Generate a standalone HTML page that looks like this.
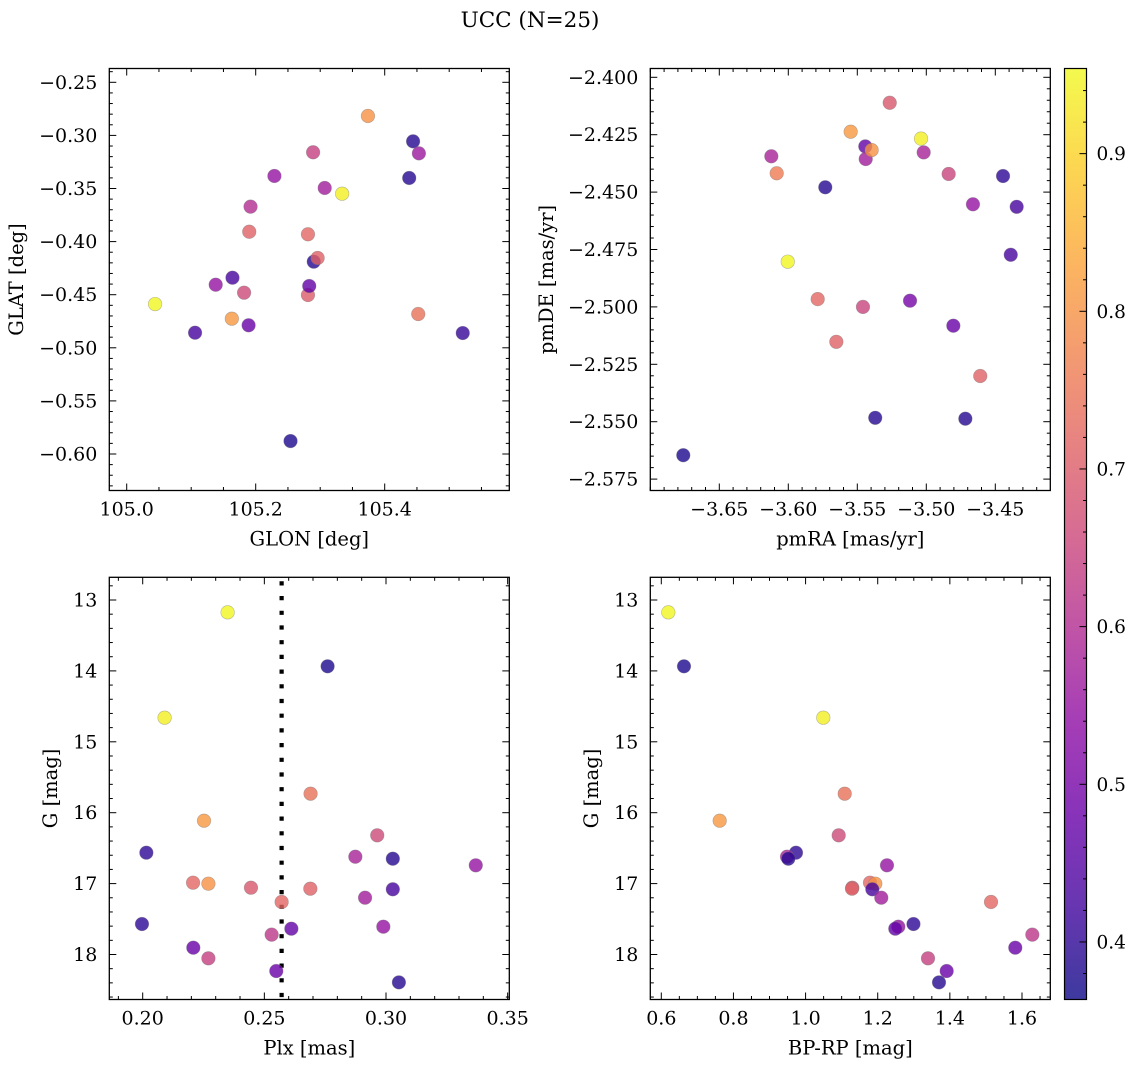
<!DOCTYPE html>
<html><head><meta charset="utf-8"><title>UCC (N=25)</title>
<style>
html,body{margin:0;padding:0;background:#fff;}
svg text{font-family:"DejaVu Serif","Liberation Serif",serif;fill:#000;}
</style></head>
<body>
<svg id="fig" xmlns="http://www.w3.org/2000/svg" width="1136" height="1067" viewBox="0 0 1136 1067">
<rect width="1136" height="1067" fill="#fff"/>
<text x="530" y="27" font-size="21.5" text-anchor="middle">UCC (N=25)</text>
</svg>
<script>
// ---- Panel 1: GLON / GLAT ----
const glon = [105.044,105.106,105.138,105.164,105.163,105.182,105.189,105.190,105.192,105.229,105.254,105.281,105.281,105.283,105.289,105.290,105.296,105.307,105.334,105.374,105.438,105.444,105.453,105.452,105.521];
const glat = [-0.4588,-0.4858,-0.4406,-0.4340,-0.4726,-0.4481,-0.4788,-0.3907,-0.3671,-0.3382,-0.5878,-0.3931,-0.4503,-0.4418,-0.3159,-0.4189,-0.4154,-0.3495,-0.3549,-0.2817,-0.3401,-0.3056,-0.3169,-0.4682,-0.4861];
const prob1 = [0.95,0.43,0.55,0.43,0.81,0.66,0.48,0.71,0.60,0.55,0.38,0.72,0.70,0.47,0.64,0.39,0.71,0.57,0.94,0.80,0.39,0.39,0.56,0.74,0.41];
// ---- Panel 2: pmRA / pmDE ----
const pmra = [-3.6761,-3.6123,-3.6084,-3.6004,-3.5787,-3.5732,-3.5652,-3.5548,-3.5459,-3.5442,-3.5439,-3.5396,-3.5370,-3.5265,-3.5118,-3.5038,-3.5019,-3.4838,-3.4804,-3.4717,-3.4662,-3.4609,-3.4444,-3.4388,-3.4345];
const pmde = [-2.5646,-2.4344,-2.4418,-2.4803,-2.4966,-2.4479,-2.5152,-2.4237,-2.5000,-2.4301,-2.4356,-2.4317,-2.5483,-2.4111,-2.4973,-2.4267,-2.4327,-2.4421,-2.5082,-2.5487,-2.4553,-2.5301,-2.4430,-2.4773,-2.4564];
const prob2 = [0.38,0.58,0.76,0.95,0.72,0.39,0.71,0.81,0.65,0.47,0.57,0.80,0.39,0.69,0.50,0.94,0.58,0.65,0.48,0.39,0.55,0.71,0.40,0.43,0.43];
// ---- Panels 3 & 4: Plx, BP-RP vs G ----
const plx  = [0.2349,0.2760,0.2090,0.2690,0.2252,0.2964,0.2015,0.2874,0.3028,0.3369,0.2207,0.2270,0.2445,0.2689,0.3028,0.2914,0.2571,0.1997,0.2989,0.2611,0.2530,0.2208,0.2270,0.2549,0.3053];
const bprp = [0.6194,0.6629,1.0491,1.1085,0.7619,1.0918,0.9734,0.9485,0.9521,1.2257,1.1786,1.1933,1.1295,1.1287,1.1850,1.2099,1.5141,1.2991,1.2571,1.2487,1.6286,1.5814,1.3394,1.3912,1.3699];
const gmag = [13.174,13.935,14.660,15.732,16.113,16.319,16.564,16.621,16.649,16.742,16.987,17.001,17.058,17.072,17.080,17.199,17.259,17.570,17.608,17.636,17.720,17.904,18.054,18.233,18.393];
const prob34 = [0.95,0.38,0.94,0.74,0.81,0.66,0.40,0.58,0.39,0.55,0.72,0.80,0.69,0.71,0.43,0.57,0.72,0.40,0.55,0.47,0.62,0.48,0.64,0.48,0.39];
const plxMedian = [0.2571];
// ---- Tick labels ----
const p1xTicks = [105.0,105.2,105.4];
const p1yTicks = [-0.25,-0.30,-0.35,-0.40,-0.45,-0.50,-0.55,-0.60];
const p2xTicks = [-3.65,-3.60,-3.55,-3.50,-3.45];
const p2yTicks = [-2.400,-2.425,-2.450,-2.475,-2.500,-2.525,-2.550,-2.575];
const p3xTicks = [0.20,0.25,0.30,0.35];
const gTicks = [13,14,15,16,17,18];
const p4xTicks = [0.6,0.8,1.0,1.2,1.4,1.6];
const cbTicks = [0.4,0.5,0.6,0.7,0.8,0.9];
const cbRange = [0.3635,0.954];

const NS = "http://www.w3.org/2000/svg";
const svg = document.getElementById('fig');
function mk(tag, attrs, parent){
  const e = document.createElementNS(NS, tag);
  for (const k in attrs) e.setAttribute(k, attrs[k]);
  (parent||svg).appendChild(e);
  return e;
}
const plasmaStops = ["#0d0887","#41049d","#6a00a8","#8f0da4","#b12a90","#cc4778","#e16462","#f2844b","#fca636","#fcce25","#f0f921"];
function hex2rgb(h){return [parseInt(h.slice(1,3),16),parseInt(h.slice(3,5),16),parseInt(h.slice(5,7),16)];}
function plasma(t){
  t=Math.max(0,Math.min(1,t));
  const f=t*10, i=Math.min(9,Math.floor(f)), u=f-i;
  const a=hex2rgb(plasmaStops[i]), b=hex2rgb(plasmaStops[i+1]);
  return 'rgb('+a.map((v,k)=>Math.round(v+(b[k]-v)*u)).join(',')+')';
}
function cval(p){return plasma((p-cbRange[0])/(cbRange[1]-cbRange[0]));}
function fmt(v,d){const s=Math.abs(v).toFixed(d);return (v<0?'\u2212':'')+s;}

function panel(cfg){
  const g = mk('g',{});
  
  
  const sx = v => cfg.x0 + (v-cfg.xmin)/(cfg.xmax-cfg.xmin)*(cfg.x1-cfg.x0);
  const sy = cfg.invertY ? (v => cfg.y0 + (v-cfg.ymin)/(cfg.ymax-cfg.ymin)*(cfg.y1-cfg.y0))
                         : (v => cfg.y1 - (v-cfg.ymin)/(cfg.ymax-cfg.ymin)*(cfg.y1-cfg.y0));
  const tk = mk('g',{stroke:'#000','stroke-width':1},g);
  
  
  const lo=Math.min(cfg.xmin,cfg.xmax), hi=Math.max(cfg.xmin,cfg.xmax);
  for (let v=Math.ceil(lo/cfg.xminor-1e-6)*cfg.xminor; v<=hi+1e-9; v+=cfg.xminor){
    const x=sx(v); const major = cfg.xticks.some(t=>Math.abs(t-v)<cfg.xminor/10); const L=major?7:3.5;
    mk('line',{x1:x,x2:x,y1:cfg.y1,y2:cfg.y1-L},tk); mk('line',{x1:x,x2:x,y1:cfg.y0,y2:cfg.y0+L},tk);
  }
  const ylo=Math.min(cfg.ymin,cfg.ymax), yhi=Math.max(cfg.ymin,cfg.ymax);
  for (let v=Math.ceil(ylo/cfg.yminor-1e-6)*cfg.yminor; v<=yhi+1e-9; v+=cfg.yminor){
    const y=sy(v); const major = cfg.yticks.some(t=>Math.abs(t-v)<cfg.yminor/10); const L=major?7:3.5;
    mk('line',{x1:cfg.x0,x2:cfg.x0+L,y1:y,y2:y},tk); mk('line',{x1:cfg.x1,x2:cfg.x1-L,y1:y,y2:y},tk);
  }
  cfg.xticks.forEach(v=>{
    const t=mk('text',{x:sx(v),y:cfg.y1+25,'font-size':19,'text-anchor':'middle'},g);
    
    
    t.textContent=fmt(v,cfg.xdec);
  });
  cfg.yticks.forEach(v=>{
    const t=mk('text',{x:cfg.x0-12,y:sy(v)+6.5,'font-size':19,'text-anchor':'end'},g);
    
    
    t.textContent=fmt(v,cfg.ydec);
  });
  const xl=mk('text',{x:(cfg.x0+cfg.x1)/2,y:cfg.y1+55,'font-size':19.5,'text-anchor':'middle'},g);
  
  
  xl.textContent=cfg.xlabel;
  const yl=mk('text',{x:0,y:0,'font-size':19.5,'text-anchor':'middle',transform:'translate('+cfg.ylx+','+((cfg.y0+cfg.y1)/2)+') rotate(-90)'},g);
  
  
  yl.textContent=cfg.ylabel;
  const cid='clip-'+cfg.name;
  const cp=mk('clipPath',{id:cid},g); mk('rect',{x:cfg.x0,y:cfg.y0,width:cfg.x1-cfg.x0,height:cfg.y1-cfg.y0},cp);
  const pts=mk('g',{'clip-path':'url(#'+cid+')'},g);
  
  
  if (cfg.vline){
    cfg.vline.forEach(v=>{
      const l=mk('line',{x1:sx(v),x2:sx(v),y1:cfg.y0+4,y2:cfg.y1,stroke:'#000','stroke-width':4.2,'stroke-dasharray':'4.2 10.5'},pts);
      
      
    });
  }
  cfg.xs.forEach((xv,i)=>{
    const c=mk('circle',{cx:sx(xv),cy:sy(cfg.ys[i]),r:6.8,fill:cval(cfg.cs[i]),'fill-opacity':0.8,stroke:'#777','stroke-opacity':0.5,'stroke-width':0.6},pts);
    
    
  });
  const fr=mk('rect',{x:cfg.x0,y:cfg.y0,width:cfg.x1-cfg.x0,height:cfg.y1-cfg.y0,fill:'none',stroke:'#000','stroke-width':1.3},g);
  
  
}

panel({name:'glon-glat-panel',x0:109.3,x1:509.3,y0:68.5,y1:490.5,
  xmin:105.0+(109.3-126.7)/645, xmax:105.0+(509.3-126.7)/645,
  ymin:-0.25-(490.5-82.3)/1062, ymax:-0.25+(82.3-68.5)/1062,
  xticks:p1xTicks,xminor:0.05,xdec:1,yticks:p1yTicks,yminor:0.01,ydec:2,
  xlabel:'GLON [deg]',ylabel:'GLAT [deg]',ylx:23,xs:glon,ys:glat,cs:prob1});
panel({name:'pm-panel',x0:650.3,x1:1050.3,y0:68.5,y1:490.5,
  xmin:-3.65+(650.3-719.3)/1380, xmax:-3.65+(1050.3-719.3)/1380,
  ymin:-2.4-(490.5-77.3)/2296, ymax:-2.4+(77.3-68.5)/2296,
  xticks:p2xTicks,xminor:0.01,xdec:2,yticks:p2yTicks,yminor:0.005,ydec:3,
  xlabel:'pmRA [mas/yr]',ylabel:'pmDE [mas/yr]',ylx:553,xs:pmra,ys:pmde,cs:prob2});
panel({name:'plx-g-panel',x0:109.3,x1:509.3,y0:577.3,y1:999.5,invertY:true,
  xmin:0.20+(109.3-142.7)/2433, xmax:0.20+(509.3-142.7)/2433,
  ymin:13+(577.3-600)/70.9, ymax:13+(999.5-600)/70.9,
  xticks:p3xTicks,xminor:0.01,xdec:2,yticks:gTicks,yminor:0.2,ydec:0,
  xlabel:'Plx [mas]',ylabel:'G [mag]',ylx:57,xs:plx,ys:gmag,cs:prob34,vline:plxMedian});
panel({name:'bprp-g-panel',x0:650.3,x1:1050.3,y0:577.3,y1:999.5,invertY:true,
  xmin:0.6+(650.3-661.3)/360.7, xmax:0.6+(1050.3-661.3)/360.7,
  ymin:13+(577.3-600)/70.9, ymax:13+(999.5-600)/70.9,
  xticks:p4xTicks,xminor:0.05,xdec:1,yticks:gTicks,yminor:0.2,ydec:0,
  xlabel:'BP-RP [mag]',ylabel:'G [mag]',ylx:598,xs:bprp,ys:gmag,cs:prob34});

(function(){
  const x0=1064.5,x1=1086.5,y0=68.5,y1=999.5;
  const cb=mk('g',{});
  
  
  const defs=mk('defs',{},cb);
  const lg=mk('linearGradient',{id:'cbgrad',x1:0,y1:1,x2:0,y2:0},defs);
  for(let i=0;i<=20;i++){mk('stop',{offset:(i/20),'stop-color':plasma(i/20),'stop-opacity':0.8},lg);}
  mk('rect',{x:x0,y:y0,width:x1-x0,height:y1-y0,fill:'url(#cbgrad)'},cb);
  const sy=v=>y1-(v-cbRange[0])/(cbRange[1]-cbRange[0])*(y1-y0);
  for(let v=0.38; v<=0.951; v+=0.02){
    const y=sy(v); const major=cbTicks.some(t=>Math.abs(t-v)<0.002); const L=major?7:3.5;
    mk('line',{x1:x1,x2:x1-L,y1:y,y2:y,stroke:'#000','stroke-width':1},cb);
  }
  cbTicks.forEach(v=>{
    const t=mk('text',{x:x1+10,y:sy(v)+6.5,'font-size':18.5},cb);
    
    
    t.textContent=v.toFixed(1);
  });
  mk('rect',{x:x0,y:y0,width:x1-x0,height:y1-y0,fill:'none',stroke:'#000','stroke-width':1.2},cb);
})();
</script>
</body></html>
